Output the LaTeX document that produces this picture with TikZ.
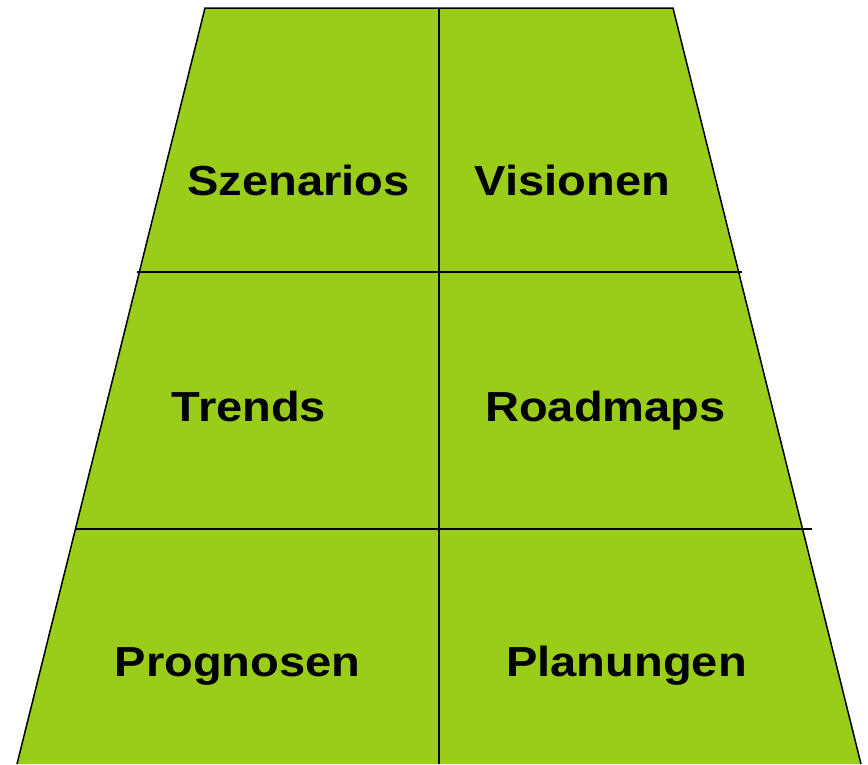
\documentclass[tikz,border=0pt]{standalone}
\usepackage{fontspec}
\setmainfont{Liberation Sans}
\definecolor{leaf}{RGB}{154,205,25}
\begin{document}
\begin{tikzpicture}[x=1pt,y=-1pt,
  lbl/.style={anchor=base,inner sep=0pt,font=\fontsize{42}{42}\selectfont\bfseries},
  divider/.style={line width=2pt,black},
  edge/.style={line width=1.5pt,black}]
\useasboundingbox (0,0) rectangle (868,764);
\fill[leaf] (17,764) -- (205,8) -- (673,8) -- (861,764) -- cycle;
\draw[edge] (17,764) -- (205,8) -- (673,8) -- (861,764);
\coordinate (vt) at (439,8);
\coordinate (vb) at (439,764);
\coordinate (h1l) at (137,272);
\coordinate (h1r) at (742,272);
\coordinate (h2l) at (76,529);
\coordinate (h2r) at (812,529);
\draw[divider] (vt) -- (vb);
\draw[divider] (h1l) -- (h1r);
\draw[divider] (h2l) -- (h2r);
\node[lbl] (szen) at (298.5,195) {\scalebox{1.12}[1]{Szenarios}};
\node[lbl] (vis) at (572.5,195) {\scalebox{1.12}[1]{Visionen}};
\node[lbl] (tre) at (249,421) {\scalebox{1.12}[1]{Trends}};
\node[lbl] (road) at (605.5,421) {\scalebox{1.12}[1]{Roadmaps}};
\node[lbl] (prog) at (237.5,676) {\scalebox{1.12}[1]{Prognosen}};
\node[lbl] (plan) at (626.5,676) {\scalebox{1.12}[1]{Planungen}};
\end{tikzpicture}
\end{document}
